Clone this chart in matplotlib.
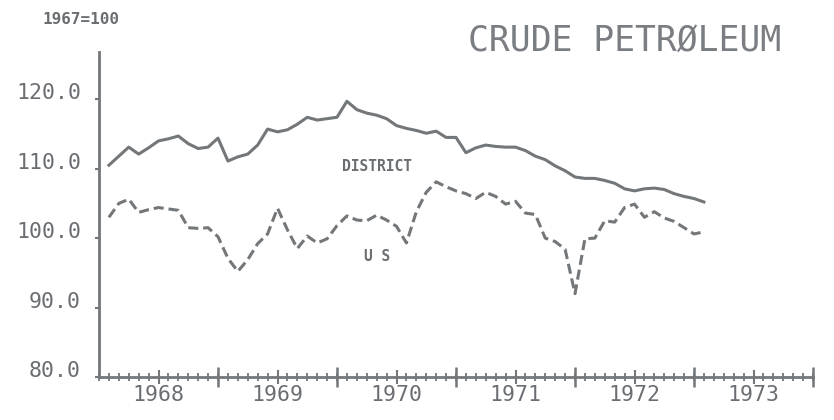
import numpy as np
import matplotlib
matplotlib.use("Agg")
import matplotlib.pyplot as plt
from matplotlib.ticker import MultipleLocator, FixedLocator, NullFormatter

GRAY = "#73777a"
TEXT_GRAY = "#6a6e72"
FONT = "DejaVu Sans Mono"

# monthly index values, Jan 1968 - Jan 1973 (1967=100)
district = [110.5, 111.8, 113.1, 112.1, 113.0, 114.0, 114.3, 114.7, 113.6, 112.9,
            113.1, 114.4, 111.1, 111.7, 112.1, 113.4, 115.7, 115.3, 115.6, 116.4,
            117.4, 117.0, 117.2, 117.4, 119.7, 118.5, 118.0, 117.7, 117.2, 116.2,
            115.8, 115.5, 115.1, 115.4, 114.5, 114.5, 112.3, 113.0, 113.4, 113.2,
            113.1, 113.1, 112.6, 111.8, 111.3, 110.4, 109.7, 108.8, 108.6, 108.6,
            108.3, 107.9, 107.1, 106.8, 107.1, 107.2, 107.0, 106.4, 106.0, 105.7,
            105.2]
us = [103.0, 105.0, 105.6, 103.7, 104.1, 104.4, 104.2, 104.0, 101.5, 101.4,
      101.5, 100.2, 97.1, 95.2, 96.9, 99.2, 100.6, 104.3, 101.2, 98.5,
      100.3, 99.3, 99.9, 101.8, 103.2, 102.6, 102.5, 103.3, 102.6, 101.7,
      99.3, 103.8, 106.6, 108.1, 107.4, 106.8, 106.4, 105.7, 106.6, 106.0,
      104.9, 105.3, 103.6, 103.4, 100.0, 99.5, 98.4, 92.0, 99.9, 100.0,
      102.5, 102.3, 104.4, 104.9, 103.0, 103.8, 102.9, 102.4, 101.5, 100.6,
      100.9]
years = [1968, 1969, 1970, 1971, 1972, 1973]
yticks = [80, 90, 100, 110, 120]

months = 1968 + (np.arange(len(district)) + 1) / 12.0

fig = plt.figure(figsize=(8.34, 4.2), dpi=100)
ax = fig.add_axes([99/834, 1-377/420, (813-99)/834, (377-52)/420])

ax.plot(months, district, color=GRAY, lw=2.2, solid_joinstyle="round")
ax.plot(months, us, color=GRAY, lw=2.2, dashes=(3.3, 1.6), dash_capstyle="butt")

ax.set_xlim(1968, 1974)
ax.set_ylim(80, 126.8)

for s in ["top", "right"]:
    ax.spines[s].set_visible(False)
for s in ["left", "bottom"]:
    ax.spines[s].set_color(GRAY)
    ax.spines[s].set_linewidth(2.0)

# y axis
ax.yaxis.set_major_locator(FixedLocator(yticks))
ax.set_yticklabels(["%.1f" % v for v in yticks])
ax.tick_params(axis="y", direction="out", length=3, width=1.5, color=GRAY,
               labelcolor=TEXT_GRAY, labelsize=15.5, pad=10)
for lab in ax.get_yticklabels():
    lab.set_family(FONT)
    lab.set_va("baseline")

# x axis: labels and half-year ticks, month minor ticks
ax.xaxis.set_major_locator(FixedLocator([y + 0.5 for y in years]))
ax.set_xticklabels([str(y) for y in years])
ax.xaxis.set_minor_locator(MultipleLocator(1/12))
ax.tick_params(axis="x", which="major", direction="inout", length=10, width=1.5,
               color=GRAY, labelcolor=TEXT_GRAY, labelsize=15.5, pad=1)
ax.tick_params(axis="x", which="minor", direction="inout", length=6, width=1.3,
               color=GRAY)
for lab in ax.get_xticklabels():
    lab.set_family(FONT)

# year boundary ticks
sec = ax.secondary_xaxis("bottom")
sec.xaxis.set_major_locator(FixedLocator([y + 1 for y in years]))
sec.xaxis.set_major_formatter(NullFormatter())
sec.tick_params(axis="x", direction="inout", length=14, width=1.8, color=GRAY)
sec.spines["bottom"].set_visible(False)

ax.text(1970.336, 110.3, "DISTRICT", color=TEXT_GRAY, family=FONT,
        fontsize=10.5, fontweight="bold", ha="center", va="center")
ax.text(1970.336, 97.35, "U S", color=TEXT_GRAY, family=FONT,
        fontsize=10.5, fontweight="bold", ha="center", va="center")

fig.text(43/834, 1-19/420, "1967=100", color=TEXT_GRAY, family=FONT,
         fontsize=11.5, fontweight="bold", ha="left", va="center")
fig.text(625/834, 1-51/420, "CRUDE PETRØLEUM", color="#7a7e82", family=FONT,
         fontsize=25, ha="center", va="baseline")

fig.savefig("out.png", dpi=100)
